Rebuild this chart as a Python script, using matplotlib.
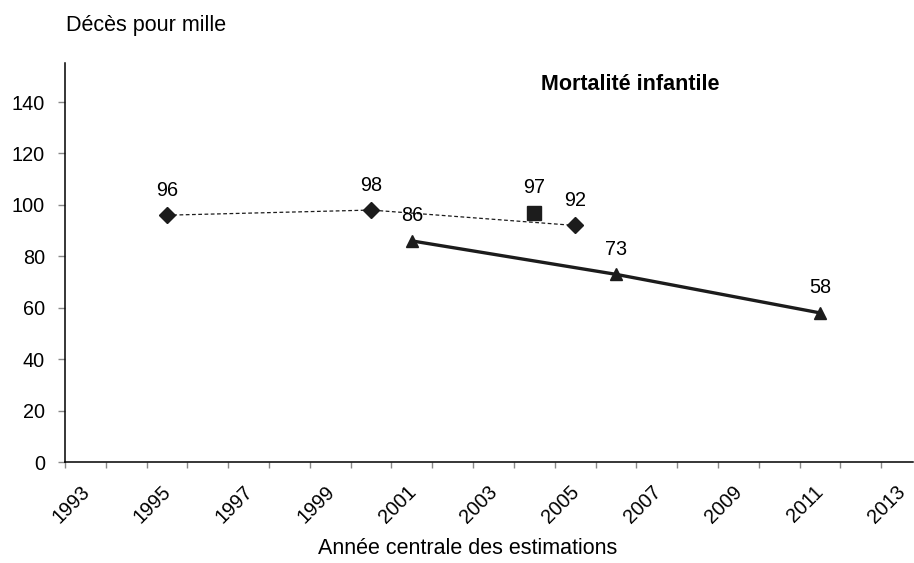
import matplotlib
matplotlib.use("Agg")
import matplotlib.pyplot as plt
from matplotlib.transforms import ScaledTranslation

plt.rcParams['font.family'] = ['Liberation Sans', 'DejaVu Sans']

# enquêtes (losanges, pointillé)
annees_a = [1995.5, 2000.5, 2005.5]
valeurs_a = [96, 98, 92]
# point isolé (carré)
annees_b = [2004.5]
valeurs_b = [97]
# série triangles, trait plein
annees_c = [2001.5, 2006.5, 2011.5]
valeurs_c = [86, 73, 58]

yticks = list(range(0, 141, 20))
xticks_lab = list(range(1993, 2014, 2))
xticks_all = list(range(1993, 2014))

col = '#1c1c1c'
fs = 15.5      # titres
fs_tick = 14.3  # graduations et étiquettes

fig = plt.figure(figsize=(9.14, 5.63), dpi=100)
ax = fig.add_axes([65/914, 1-462/563, 848/914, (462-63)/563])

ax.plot(annees_a, valeurs_a, color=col, ls=(0, (3, 2)), lw=0.9,
        marker='D', ms=8, mfc=col, mec=col)
ax.plot(annees_b, valeurs_b, color=col, ls='none', marker='s', ms=10,
        mfc=col, mec=col)
ax.plot(annees_c, valeurs_c, color=col, ls='-', lw=2.4, marker='^', ms=9,
        mfc=col, mec=col)

for xs, ys in [(annees_a, valeurs_a), (annees_b, valeurs_b), (annees_c, valeurs_c)]:
    for x, y in zip(xs, ys):
        ax.annotate(str(y), (x, y), xytext=(0, 18), textcoords='offset points',
                    ha='center', va='center', fontsize=fs_tick, color='black')

ax.set_xlim(1993, 2013.78)
ax.set_ylim(0, 155.2)
ax.set_yticks(yticks)
ax.set_xticks(xticks_all)
ax.set_xticklabels([str(y) if y in xticks_lab else '' for y in xticks_all],
                   rotation=45, ha='center', va='top')
ax.tick_params(axis='both', colors='#888888', labelcolor='black',
               labelsize=fs_tick, width=1)
ax.tick_params(axis='x', length=4.3, pad=10)
ax.tick_params(axis='y', length=5, pad=9.4)
off = ScaledTranslation(6/100, 0, fig.dpi_scale_trans)
for lab in ax.get_xticklabels():
    lab.set_transform(lab.get_transform() + off)
for s in ['top', 'right']:
    ax.spines[s].set_visible(False)
for s in ['left', 'bottom']:
    ax.spines[s].set_color('black')
    ax.spines[s].set_linewidth(1.1)

fig.text(66/914, 1-26/563, 'Décès pour mille', fontsize=fs, ha='left', va='center')
fig.text(630/914, 1-84/563, 'Mortalité infantile', fontsize=fs, fontweight='bold',
         ha='center', va='center')
fig.text(468/914, 1-549/563, 'Année centrale des estimations', fontsize=fs,
         ha='center', va='center')

fig.savefig('out.png', dpi=100)
